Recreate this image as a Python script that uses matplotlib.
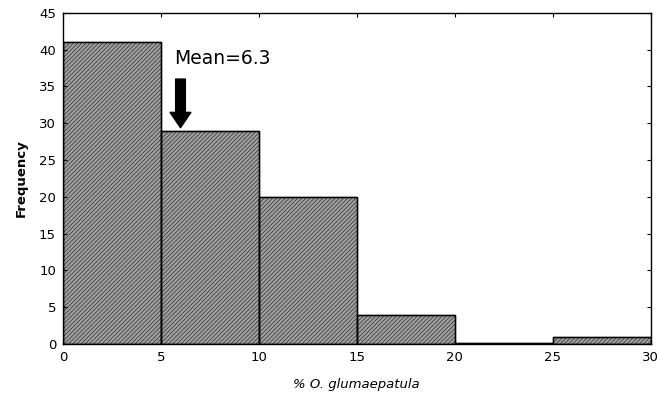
import numpy as np
import matplotlib.pyplot as plt

plt.rcParams['hatch.linewidth'] = 0.5

# histogram of % O. glumaepatula
bin_edges = [0, 5, 10, 15, 20, 25, 30]
frequency = [41, 29, 20, 4, 0.2, 0.9]
mean_value = 6.3

fig = plt.figure(figsize=(6.58, 4.01), dpi=100)
ax = fig.add_axes([0.0957, 0.142, 0.893, 0.826])

lefts = np.array(bin_edges[:-1])
widths = np.diff(bin_edges)
ax.bar(lefts, frequency, width=widths, align='edge', color='#a0a0a0',
       edgecolor='#303030', hatch='////////', linewidth=1.0)
# redraw the outlines so the hatch colour doesn't decide the edge
ax.bar(lefts, frequency, width=widths, align='edge', fill=False,
       edgecolor='black', linewidth=1.0)

ax.set_xlim(0, 30)
ax.set_ylim(0, 45)
ax.set_xticks(range(0, 31, 5))
ax.set_yticks(range(0, 46, 5))
ax.tick_params(direction='in', top=True, right=True, labelsize=9.5,
               length=3, width=0.8, pad=5)
for s in ax.spines.values():
    s.set_linewidth(1.0)

ax.annotate('', xy=(6, 29.4), xytext=(6, 36),
            arrowprops=dict(facecolor='black', edgecolor='black',
                            width=7, headwidth=15, headlength=11))
ax.text(5.7, 38.8, 'Mean=%.1f' % mean_value, fontsize=13.5, ha='left', va='center')

ax.set_ylabel('Frequency', fontsize=9.5, fontweight='bold', labelpad=8)
ax.set_xlabel('% O. glumaepatula', fontsize=9.5, style='italic', labelpad=10)

fig.savefig('out.png', dpi=100)
